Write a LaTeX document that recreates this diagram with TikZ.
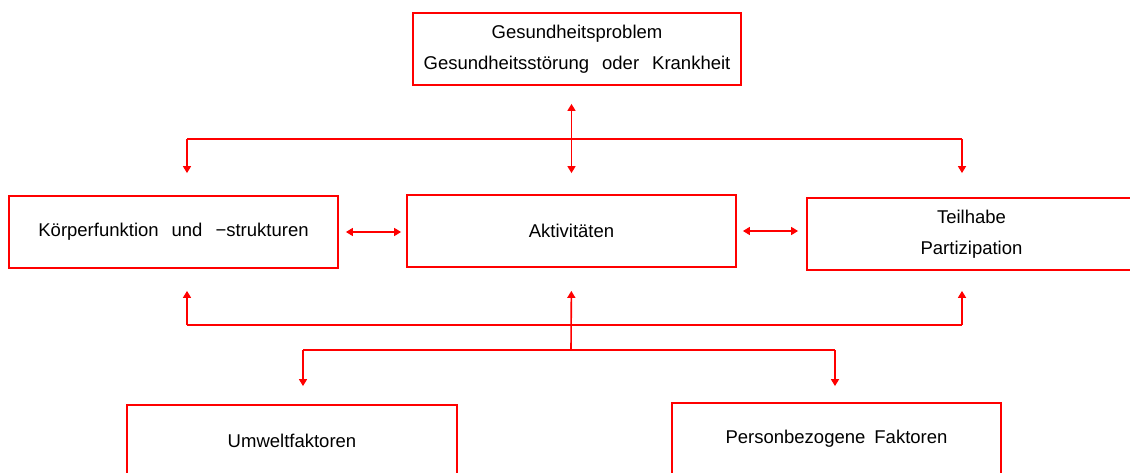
\documentclass[tikz,border=0pt]{standalone}
\usepackage{fontspec}
\setmainfont{Liberation Sans}
\usetikzlibrary{arrows.meta}
\newcommand\wgap{\hspace{13pt}}
\begin{document}
\begin{tikzpicture}[x=1pt,y=-1pt,
  box/.style={draw=red, line width=1.8pt, minimum width=329pt, minimum height=72pt,
    inner sep=0pt, align=center, font=\fontsize{18.5}{31}\selectfont, text=black},
  conn/.style={draw=red, line width=1.6pt},
  arr/.style={conn, -{Triangle[width=8pt,length=7pt]}},
  darr/.style={conn, {Triangle[width=8pt,length=7pt]}-{Triangle[width=8pt,length=7pt]}}]
\useasboundingbox (0,0) rectangle (1130,473);
\clip (0,0) rectangle (1130,473);
% boxes
\node[box, minimum width=328pt] (top) at (577,49) {Gesundheitsproblem\\Gesundheitsstörung\wgap oder\wgap Krankheit};
\node[box] (left) at (173.5,232) {Körperfunktion\wgap und\wgap −strukturen};
\node[box] (mid) at (571.5,231) {Aktivitäten};
\node[box] (right) at (971.5,234) {Teilhabe\\Partizipation};
\node[box, minimum width=330pt] (bl) at (292,441) {Umweltfaktoren};
\node[box] (br) at (836.5,439) {Personbezogene\hspace{9pt}Faktoren};
% bus coordinates
\coordinate (t1) at (187,139);
\coordinate (t2) at (962,139);
\coordinate (u1) at (187,325);
\coordinate (u2) at (962,325);
\coordinate (um) at (571,325);
\coordinate (v1) at (303,350);
\coordinate (v2) at (835,350);
\coordinate (vm) at (571,350);
% top connection
\draw[darr, shorten <=18pt, shorten >=21pt] (mid.north |- top.south) -- (mid.north);
\draw[conn] (t1) -- (t2);
\draw[arr, shorten >=22pt] (t1) -- (t1 |- left.north);
\draw[arr, shorten >=24pt] (t2) -- (t2 |- right.north);
% horizontal arrows
\draw[darr, shorten <=7pt, shorten >=5pt] (left.east) -- (left.east -| mid.west);
\draw[darr, shorten <=6pt, shorten >=8pt] (mid.east) -- (mid.east -| right.west);
% bottom connection
\draw[conn] (u1) -- (u2);
\draw[arr, shorten >=22pt] (u1) -- (u1 |- left.south);
\draw[arr, shorten >=20pt] (u2) -- (u2 |- right.south);
\draw[arr, shorten >=23pt] (vm) -- (mid.south);
\draw[conn] (v1) -- (v2);
\draw[arr, shorten >=18pt] (v1) -- (v1 |- bl.north);
\draw[arr, shorten >=16pt] (v2) -- (v2 |- br.north);
\end{tikzpicture}
\end{document}
